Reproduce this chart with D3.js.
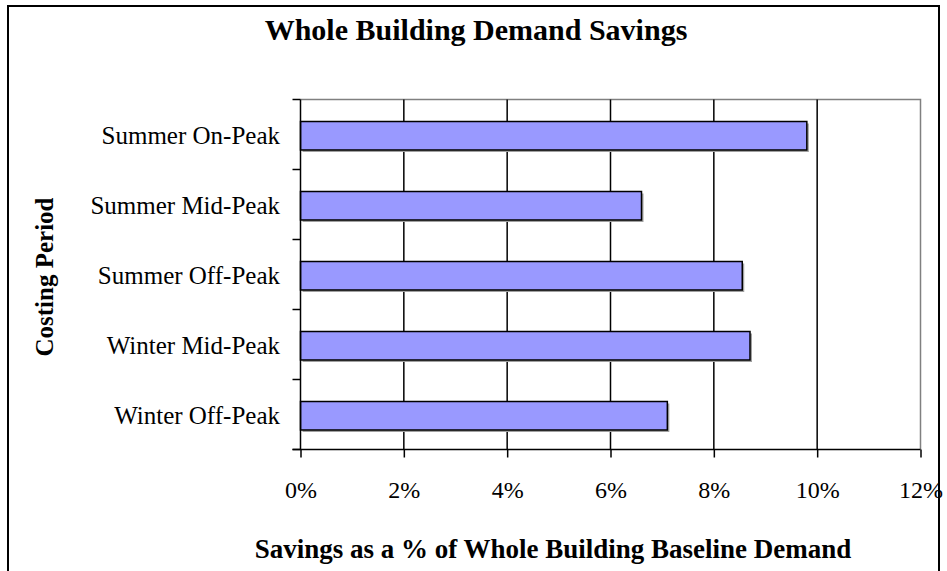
<!DOCTYPE html>
<html>
<head>
<meta charset="utf-8">
<script src="https://cdn.jsdelivr.net/npm/d3@7"></script>
<style>
  body { margin: 0; background: #fff; }
  text { font-family: "Liberation Serif", "Times New Roman", serif; fill: #000; }
</style>
</head>
<body>
<svg id="chart" width="947" height="571"></svg>
<script>
// Costing periods and whole-building demand savings (% of baseline demand)
const categories = ["Summer On-Peak", "Summer Mid-Peak", "Summer Off-Peak", "Winter Mid-Peak", "Winter Off-Peak"];
const savings = [9.8, 6.6, 8.55, 8.7, 7.1];
const xTickValues = [0, 2, 4, 6, 8, 10, 12];
const xTickLabels = ["0%", "2%", "4%", "6%", "8%", "10%", "12%"];

const svg = d3.select("#chart");
const plot = { left: 300.5, right: 920.5, top: 99.5, bottom: 449.5 };

const x = d3.scaleLinear().domain([0, 12]).range([plot.left, plot.right]);
const yCat = d3.scaleBand().domain(categories).range([plot.top, plot.bottom]);
const yBar = d3.scaleBand().domain(categories).range([plot.top, plot.bottom])
  .paddingInner(0.593).paddingOuter(0.2965).align(0.53);

// Outer chart frame
svg.append("rect")
  .attr("x", 8).attr("y", 6).attr("width", 931).attr("height", 600)
  .attr("fill", "#fff").attr("stroke", "#000").attr("stroke-width", 2);

// Title
svg.append("text")
  .attr("x", 476).attr("y", 40)
  .attr("text-anchor", "middle")
  .style("font-size", "30px").style("font-weight", "bold")
  .text("Whole Building Demand Savings");

// Plot frame (top and right edges)
svg.append("path")
  .attr("d", `M${plot.left},${plot.top}H${plot.right}V${plot.bottom}`)
  .attr("fill", "none").attr("stroke", "#808080").attr("stroke-width", 1.5);

// Vertical gridlines
svg.append("g").selectAll("line")
  .data(xTickValues.filter(v => v > 0 && v < 12))
  .join("line")
  .attr("x1", d => x(d)).attr("x2", d => x(d))
  .attr("y1", plot.top).attr("y2", plot.bottom)
  .attr("stroke", "#000").attr("stroke-width", 1.5);

// Bar shadows
svg.append("g").selectAll("rect")
  .data(savings)
  .join("rect")
  .attr("x", x(0) + 2)
  .attr("y", (d, i) => yBar(categories[i]) + 2)
  .attr("width", d => x(d) - x(0))
  .attr("height", yBar.bandwidth())
  .attr("fill", "#a0a0a0");

// Bars
svg.append("g").selectAll("rect")
  .data(savings)
  .join("rect")
  .attr("x", x(0))
  .attr("y", (d, i) => yBar(categories[i]))
  .attr("width", d => x(d) - x(0))
  .attr("height", yBar.bandwidth())
  .attr("fill", "#9999ff")
  .attr("stroke", "#000").attr("stroke-width", 1.5);

// X axis
const xAxis = d3.axisBottom(x)
  .tickValues(xTickValues)
  .tickFormat((d, i) => xTickLabels[i])
  .tickSize(8).tickSizeOuter(0).tickPadding(23);
const gx = svg.append("g").attr("transform", `translate(0,${plot.bottom})`).call(xAxis);
gx.select(".domain").attr("stroke", "#000").attr("stroke-width", 1.5)
  .attr("d", `M${plot.left - 8},0H${plot.right}`);
gx.selectAll(".tick line").attr("stroke", "#000").attr("stroke-width", 1.5);
gx.selectAll(".tick text")
  .style("font-family", "'Liberation Serif', serif")
  .style("font-size", "24px").attr("fill", "#000");

// Y axis: line, tick marks on category boundaries, category labels
svg.append("line")
  .attr("x1", plot.left).attr("x2", plot.left)
  .attr("y1", plot.top).attr("y2", plot.bottom)
  .attr("stroke", "#000").attr("stroke-width", 1.5);

const boundaries = categories.map(c => yCat(c)).concat([yCat.range()[1]]);
svg.append("g").selectAll("line")
  .data(boundaries)
  .join("line")
  .attr("x1", plot.left - 8).attr("x2", plot.left)
  .attr("y1", d => d).attr("y2", d => d)
  .attr("stroke", "#000").attr("stroke-width", 1.5);

svg.append("g").selectAll("text")
  .data(categories)
  .join("text")
  .attr("x", 280)
  .attr("y", d => yCat(d) + yCat.bandwidth() / 2 + 9)
  .attr("text-anchor", "end")
  .style("font-size", "25px")
  .text(d => d);

// Axis titles
svg.append("text")
  .attr("transform", "translate(53,277) rotate(-90)")
  .attr("text-anchor", "middle")
  .style("font-size", "25px").style("font-weight", "bold")
  .text("Costing Period");

svg.append("text")
  .attr("x", 553).attr("y", 558)
  .attr("text-anchor", "middle")
  .style("font-size", "27px").style("font-weight", "bold")
  .text("Savings as a % of Whole Building Baseline Demand");
</script>
</body>
</html>
